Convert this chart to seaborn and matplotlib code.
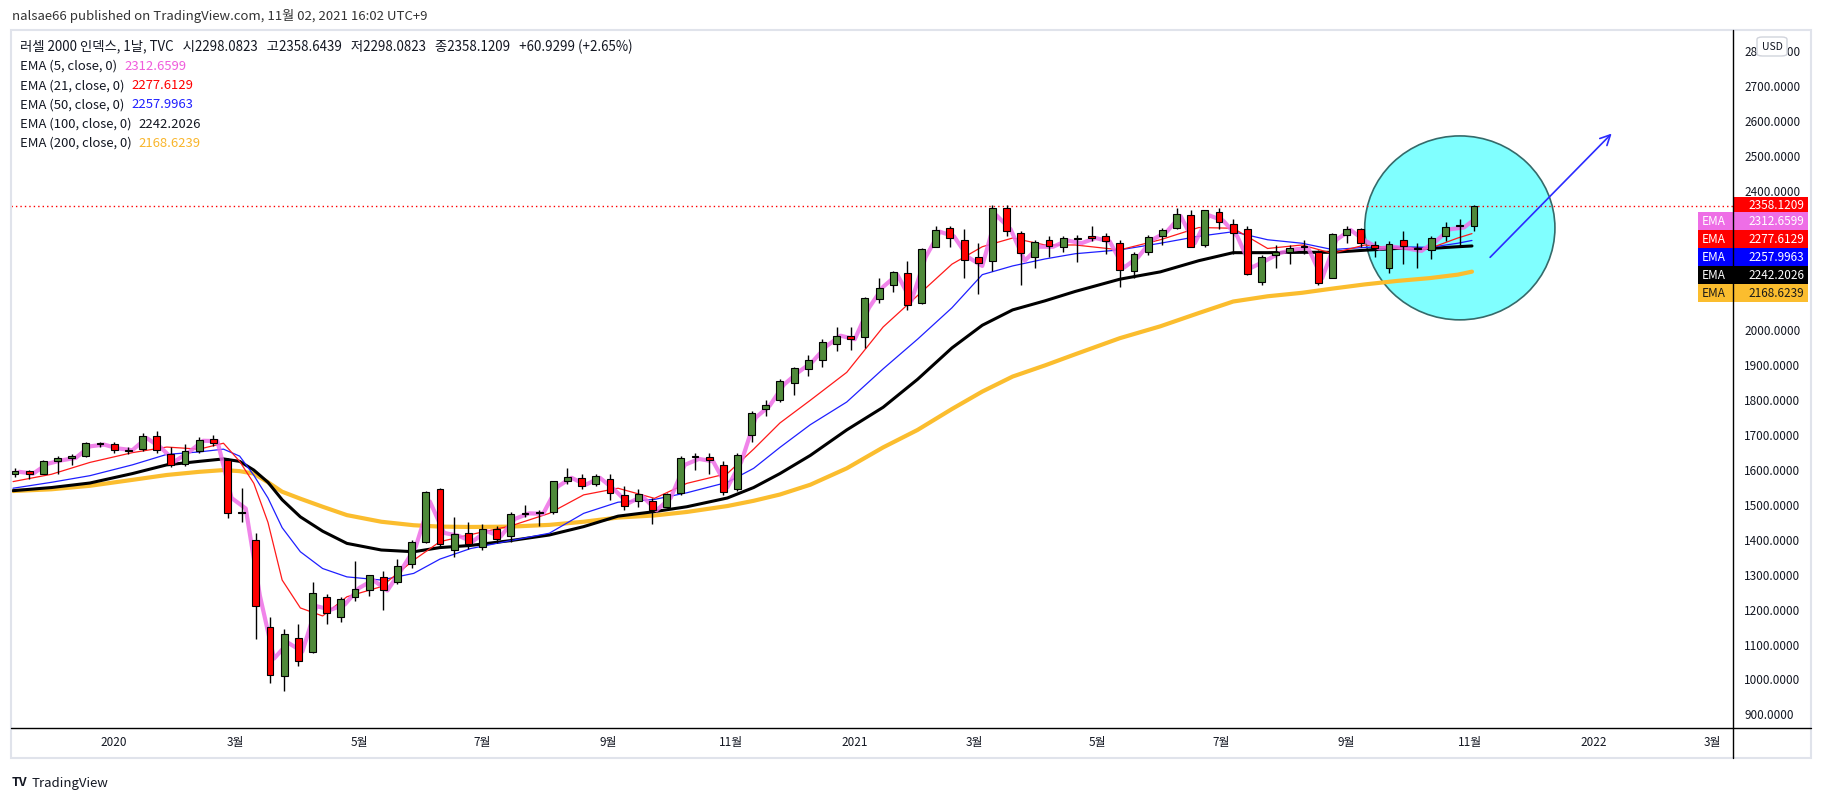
import numpy as np
import pandas as pd
import matplotlib
matplotlib.use('Agg')
import matplotlib.pyplot as plt
import matplotlib.dates as mdates
import matplotlib.transforms as mtrans
from matplotlib.patches import Ellipse, Rectangle, FancyBboxPatch
from matplotlib.lines import Line2D
import seaborn as sns

# ---------------- data ------------------------------------- #
# weekly candles (week starting monday), Russell 2000 daily chart
week_start = pd.date_range('2019-11-11', periods=104, freq='7D')

opens = [1590, 1597, 1590, 1625, 1636, 1640, 1677, 1675,
         1655, 1660, 1699, 1645, 1617, 1656, 1690, 1630, 1480, 1400, 1150, 1010, 1120,
         1080, 1235, 1180, 1235, 1255, 1295, 1280, 1330, 1395, 1545, 1370, 1420, 1380,
         1430, 1410, 1475, 1478, 1480, 1570, 1578, 1560, 1575, 1530, 1510, 1510, 1495,
         1535, 1640, 1638, 1615, 1545, 1700, 1775, 1800, 1850, 1890, 1915, 1960, 1985,
         1980, 2090, 2130, 2165, 2080, 2240, 2295, 2260, 2210, 2200, 2350, 2280, 2210,
         2260, 2240, 2265, 2270, 2270, 2250, 2170, 2225, 2270, 2295, 2330, 2245, 2340,
         2305, 2290, 2140, 2215, 2225, 2240, 2225, 2150, 2275, 2290, 2245, 2180, 2260,
         2235, 2230, 2270, 2300, 2298.08]
highs = [1605, 1600, 1630, 1640, 1645, 1680, 1680, 1680,
         1665, 1705, 1712, 1665, 1675, 1695, 1700, 1635, 1550, 1420, 1180, 1145, 1160,
         1280, 1245, 1235, 1340, 1300, 1310, 1345, 1400, 1540, 1550, 1465, 1450, 1445,
         1440, 1480, 1500, 1485, 1570, 1605, 1590, 1590, 1590, 1555, 1545, 1520, 1535,
         1640, 1650, 1650, 1625, 1650, 1770, 1800, 1860, 1895, 1930, 1975, 2010, 2010,
         2095, 2150, 2170, 2200, 2235, 2300, 2300, 2290, 2250, 2360, 2360, 2285, 2260,
         2270, 2270, 2275, 2300, 2280, 2260, 2225, 2275, 2295, 2350, 2345, 2345, 2350,
         2320, 2300, 2215, 2245, 2245, 2260, 2230, 2280, 2300, 2295, 2255, 2255, 2285,
         2250, 2270, 2310, 2320, 2358.64]
lows = [1580, 1575, 1588, 1590, 1615, 1638, 1665, 1650,
        1645, 1655, 1648, 1610, 1612, 1650, 1670, 1464, 1450, 1115, 990, 966, 1040,
        1075, 1160, 1165, 1225, 1240, 1200, 1275, 1320, 1390, 1380, 1350, 1375, 1370,
        1390, 1395, 1465, 1440, 1475, 1560, 1545, 1555, 1515, 1485, 1495, 1445, 1490,
        1530, 1600, 1590, 1530, 1540, 1680, 1755, 1795, 1815, 1870, 1895, 1940, 1945,
        1950, 2080, 2110, 2060, 2075, 2240, 2240, 2150, 2105, 2170, 2270, 2130, 2180,
        2210, 2225, 2195, 2255, 2220, 2125, 2150, 2215, 2245, 2290, 2240, 2240, 2290,
        2220, 2160, 2130, 2180, 2190, 2220, 2130, 2150, 2250, 2240, 2210, 2165, 2190,
        2180, 2205, 2255, 2240, 2285]
closes = [1597, 1589, 1625, 1636, 1636, 1677, 1675, 1657,
          1658, 1699, 1657, 1614, 1656, 1687, 1678, 1476, 1478, 1210, 1014, 1131, 1052,
          1247, 1190, 1230, 1260, 1299, 1255, 1324, 1394, 1536, 1387, 1418, 1387, 1432,
          1403, 1474, 1474, 1480, 1568, 1581, 1554, 1583, 1535, 1497, 1531, 1487, 1531,
          1635, 1638, 1628, 1538, 1644, 1765, 1786, 1856, 1892, 1916, 1966, 1983, 1975,
          2092, 2123, 2168, 2073, 2233, 2289, 2266, 2201, 2192, 2352, 2285, 2221, 2254,
          2243, 2264, 2263, 2266, 2257, 2172, 2220, 2269, 2287, 2335, 2238, 2345, 2310,
          2280, 2163, 2210, 2226, 2236, 2238, 2136, 2277, 2292, 2250, 2237, 2248, 2241,
          2233, 2265, 2296, 2298, 2358.12]

# EMA 5 at the end of each week
ema5 = [1595, 1590, 1618, 1628, 1635, 1668, 1673, 1662,
        1657, 1692, 1665, 1625, 1652, 1684, 1683, 1520, 1490, 1240, 1060, 1105, 1080,
        1210, 1200, 1215, 1262, 1285, 1255, 1315, 1380, 1510, 1420, 1412, 1395, 1425,
        1410, 1460, 1476, 1475, 1552, 1578, 1558, 1578, 1545, 1505, 1525, 1485, 1520,
        1615, 1632, 1625, 1550, 1625, 1750, 1785, 1845, 1880, 1910, 1955, 1985, 1975,
        2065, 2125, 2160, 2085, 2210, 2283, 2270, 2210, 2185, 2330, 2290, 2200, 2240,
        2240, 2258, 2250, 2265, 2255, 2180, 2210, 2260, 2282, 2328, 2250, 2330, 2315,
        2270, 2180, 2200, 2222, 2232, 2237, 2150, 2260, 2288, 2258, 2235, 2240, 2235,
        2228, 2255, 2290, 2295, 2312.66]

# slower EMAs sampled about twice a month
ema_dates = ['2019-11-12', '2019-12-01', '2019-12-20',
             '2020-01-10', '2020-01-27', '2020-02-12', '2020-02-24', '2020-03-03', '2020-03-10',
             '2020-03-17', '2020-03-24', '2020-04-02', '2020-04-13', '2020-04-25', '2020-05-12',
             '2020-05-28', '2020-06-10', '2020-06-25', '2020-07-15', '2020-08-03', '2020-08-20',
             '2020-09-06', '2020-09-24', '2020-10-10', '2020-10-30', '2020-11-12', '2020-11-25',
             '2020-12-10', '2020-12-28',
             '2021-01-15', '2021-02-01', '2021-02-18', '2021-03-05', '2021-03-20', '2021-04-05',
             '2021-04-20', '2021-05-12', '2021-06-01', '2021-06-20', '2021-07-07', '2021-07-24',
             '2021-08-10', '2021-08-25', '2021-09-10', '2021-09-26', '2021-10-12', '2021-10-26',
             '2021-11-02']
ema21 = [1567, 1588, 1622,
         1650, 1666, 1660, 1677, 1625, 1562, 1450, 1285, 1205, 1182, 1237, 1266, 1342, 1395,
         1415, 1440, 1476, 1529, 1548, 1519, 1562, 1590, 1660, 1735, 1800, 1880,
         2010, 2100, 2190, 2240, 2265, 2245, 2245, 2231, 2260, 2295, 2293, 2235, 2245, 2221,
         2245, 2235, 2235, 2265, 2277.61]
ema50 = [1548, 1565, 1584,
         1615, 1645, 1652, 1660, 1640, 1585, 1520, 1435, 1366, 1318, 1294, 1285, 1304, 1345,
         1375, 1398, 1419, 1476, 1508, 1516, 1535, 1565, 1605, 1665, 1730, 1795,
         1890, 1975, 2065, 2160, 2185, 2205, 2220, 2231, 2250, 2270, 2283, 2260, 2250, 2232,
         2238, 2240, 2238, 2250, 2258.0]
ema100 = [1541, 1550, 1563,
          1590, 1615, 1625, 1632, 1625, 1600, 1565, 1515, 1466, 1425, 1390, 1371, 1366, 1378,
          1384, 1398, 1414, 1438, 1468, 1481, 1495, 1520, 1550, 1590, 1642, 1715,
          1780, 1860, 1950, 2015, 2059, 2085, 2112, 2147, 2168, 2200, 2223, 2223, 2224, 2224,
          2230, 2235, 2235, 2240, 2242.2]
ema200 = [1540, 1545, 1555,
          1572, 1586, 1595, 1600, 1597, 1590, 1565, 1538, 1518, 1495, 1471, 1452, 1442, 1438,
          1437, 1438, 1443, 1452, 1464, 1470, 1480, 1497, 1512, 1530, 1558, 1605,
          1665, 1715, 1775, 1825, 1868, 1900, 1932, 1978, 2012, 2050, 2083, 2098, 2108, 2120,
          2132, 2142, 2150, 2160, 2168.62]

ema_names = ['EMA (5, close, 0)', 'EMA (21, close, 0)', 'EMA (50, close, 0)',
             'EMA (100, close, 0)', 'EMA (200, close, 0)']
ema_last = ['2312.6599', '2277.6129', '2257.9963', '2242.2026', '2168.6239']
last_price = 2358.1209
last_day = '2021-11-02'

tick_dates = ['2020-01-01', '2020-03-01', '2020-05-01', '2020-07-01', '2020-09-01',
              '2020-11-01', '2021-01-01', '2021-03-01', '2021-05-01', '2021-07-01',
              '2021-09-01', '2021-11-01', '2022-01-01', '2022-03-01']
tick_labels = ['2020', '3월', '5월', '7월', '9월', '11월', '2021', '3월', '5월', '7월',
               '9월', '11월', '2022', '3월']
# price ticks; 2100-2300 sit under the EMA tags on the reference
price_ticks = [900, 1000, 1100, 1200, 1300, 1400, 1500, 1600, 1700, 1800, 1900, 2000,
               2400, 2500, 2600, 2700, 2800]

# drawing on the chart
circle_center = ('2021-10-27', 2294)
circle_size = (94, 527)      # days, points
arrow_from = ('2021-11-10', 2204)
arrow_to = ('2022-01-11', 2570)

# ---------------- styles ------------------ #
sns.set_style('white')
plt.rcParams['font.family'] = ['Noto Sans CJK KR', 'DejaVu Sans']

W, H = 1822, 797
def fx(px):
    return px / W
def fy(py):
    return 1 - py / H

GREEN = '#4f8a3a'
RED = '#ff0000'
C5, C21, C50, C100, C200 = '#ee6ee6', '#ff1a1a', '#1f1fff', '#000000', '#fbbd2e'
TXT = '#131722'

fig = plt.figure(figsize=(W / 100, H / 100), dpi=100)
ax = fig.add_axes([fx(11), fy(728), fx(1722), 698 / H])
ax.set_facecolor('white')

# ---------------- candles ------------------ #
o = np.array(opens, float)
h = np.array(highs, float)
l = np.array(lows, float)
c = np.array(closes, float)
xc = mdates.date2num(week_start + pd.Timedelta(days=2))
up = c >= o
ax.vlines(xc, l, h, color='black', lw=1.0, zorder=4)
ax.bar(xc, np.maximum(np.abs(c - o), 3), bottom=np.minimum(o, c), width=3.4,
       color=np.where(up, GREEN, RED), edgecolor='black', linewidth=0.8, zorder=5)

# ---------------- EMAs ------------------ #
xe = mdates.date2num(pd.to_datetime(ema_dates))
x5 = np.minimum(mdates.date2num(week_start + pd.Timedelta(days=4)),
                mdates.date2num(pd.Timestamp(last_day)))
sns.lineplot(x=xe, y=ema200, ax=ax, color=C200, lw=3.0, sort=False, zorder=2.0)
sns.lineplot(x=xe, y=ema100, ax=ax, color=C100, lw=2.2, sort=False, zorder=2.1)
sns.lineplot(x=xe, y=ema50, ax=ax, color=C50, lw=0.9, sort=False, zorder=2.2)
sns.lineplot(x=xe, y=ema21, ax=ax, color=C21, lw=0.9, sort=False, zorder=2.3)
sns.lineplot(x=x5, y=ema5, ax=ax, color=C5, lw=3.0, alpha=0.85, sort=False, zorder=2.4)

# last price line
ax.axhline(last_price, color=RED, ls=(0, (1, 2.2)), lw=1.0, zorder=3)

# circle + arrow
cc = (mdates.date2num(pd.Timestamp(circle_center[0])), circle_center[1])
ax.add_patch(Ellipse(cc, circle_size[0], circle_size[1], fc='#80ffff', ec='#356a6a',
                     lw=1.2, zorder=1))
ax.annotate('', xy=(mdates.date2num(pd.Timestamp(arrow_to[0])), arrow_to[1]),
            xytext=(mdates.date2num(pd.Timestamp(arrow_from[0])), arrow_from[1]),
            arrowprops=dict(arrowstyle='->', color='#2b2bff', lw=1.2, mutation_scale=18),
            zorder=6)

# ---------------- axes ------------------ #
ax.set_xlim(mdates.date2num(pd.Timestamp('2019-11-11')), mdates.date2num(pd.Timestamp('2022-03-11')))
ax.set_ylim(861, 2861)
for s in ax.spines.values():
    s.set_visible(False)

ax.set_xticks(mdates.date2num(pd.to_datetime(tick_dates)))
ax.set_xticklabels(tick_labels)
ax.tick_params(axis='x', length=0, pad=6, labelsize=8.5, labelcolor=TXT)
ax.yaxis.tick_right()
ax.set_yticks(price_ticks)
ax.set_yticklabels(['{:.4f}'.format(v) for v in price_ticks])
ax.tick_params(axis='y', length=0, pad=8, labelsize=8.5, labelcolor=TXT)
ax.set_xlabel('')
ax.set_ylabel('')

# frame lines
fig.add_artist(Rectangle((fx(11), fy(758)), fx(1800), 728 / H, transform=fig.transFigure,
                         fill=False, ec='#e0e3eb', lw=1.5))
fig.add_artist(Line2D([fx(1733), fx(1733)], [fy(30), fy(758)], transform=fig.transFigure,
                      color='black', lw=1.0))
fig.add_artist(Line2D([fx(11), fx(1811)], [fy(728), fy(728)], transform=fig.transFigure,
                      color='black', lw=1.0))

# ---------------- price labels on the right ------------------ #
trans = mtrans.blended_transform_factory(ax.transAxes, ax.transData)
unit = 2000 / 698.0
bh = 18 * unit
axw = 1722.0
def ax_x(px):
    return (px - 11) / axw

ax.add_patch(Rectangle((ax_x(1733), last_price - bh / 2), ax_x(1808) - ax_x(1733), bh,
                       transform=trans, fc=RED, ec='none', clip_on=False, zorder=10))
ax.text(ax_x(1804), last_price, '{:.4f}'.format(last_price), transform=trans, ha='right',
        va='center', color='white', fontsize=8.5, clip_on=False, zorder=11)

box_cols = [C5, RED, '#0000ff', '#000000', C200]
txt_cols = ['white', 'white', 'white', 'white', '#1a1a1a']
y0 = ema5[-1]
for i in range(5):
    yy = y0 - i * bh
    ax.add_patch(Rectangle((ax_x(1698), yy - bh / 2), ax_x(1808) - ax_x(1698), bh,
                           transform=trans, fc=box_cols[i], ec='none', clip_on=False, zorder=10))
    ax.text(ax_x(1702), yy, 'EMA', transform=trans, ha='left', va='center',
            color=txt_cols[i], fontsize=8.5, clip_on=False, zorder=11)
    ax.text(ax_x(1804), yy, ema_last[i], transform=trans, ha='right', va='center',
            color=txt_cols[i], fontsize=8.5, clip_on=False, zorder=11)

# USD box
fig.add_artist(FancyBboxPatch((fx(1757), fy(56)), fx(30), 19 / H, transform=fig.transFigure,
                              boxstyle='round,pad=0,rounding_size=0.003', fc='white',
                              ec='#d1d4dc', lw=1.0))
fig.text(fx(1772), fy(46.5), 'USD', ha='center', va='center', fontsize=7.5, color=TXT)

# ---------------- texts ------------------ #
fig.text(fx(12), fy(16), 'nalsae66 published on TradingView.com, 11월 02, 2021 16:02 UTC+9',
         ha='left', va='center', fontsize=9.5, color='#333333')
fig.text(fx(20), fy(46.5),
         '러셀 2000 인덱스, 1날, TVC   시2298.0823   고2358.6439   저2298.0823   종2358.1209   +60.9299 (+2.65%)',
         ha='left', va='center', fontsize=9.6, color=TXT)
val_cols = ['#f05cdc', '#ff0000', '#1f1fff', TXT, '#f9b52a']
for i in range(5):
    yrow = 66.5 + i * 19.2
    t = fig.text(fx(20), fy(yrow), ema_names[i], ha='left', va='center', fontsize=9.4, color=TXT)
    ax.annotate(ema_last[i], xy=(1, 0.5), xycoords=t, xytext=(5, 0), textcoords='offset points',
                ha='left', va='center', fontsize=9.4, color=val_cols[i], annotation_clip=False)

fig.text(fx(12), fy(783), 'TV', ha='left', va='center', fontsize=9, fontweight='bold', color=TXT)
fig.text(fx(32), fy(783), 'TradingView', ha='left', va='center', fontsize=9.5, color=TXT)

fig.savefig('out.png', dpi=100, facecolor='white')
